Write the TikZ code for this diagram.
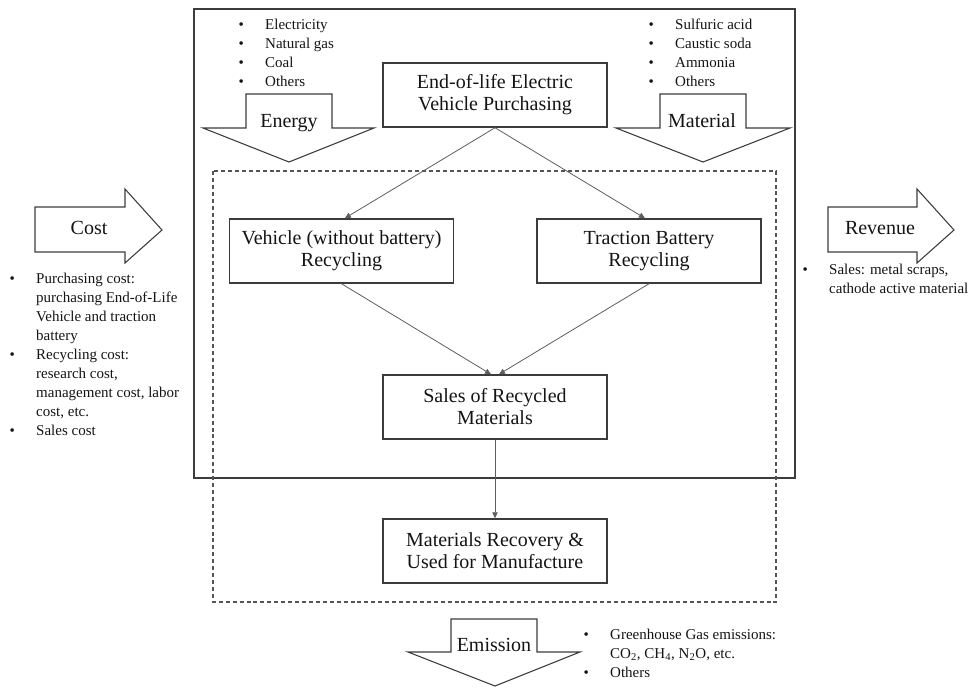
\documentclass[tikz,border=0pt]{standalone}
\usepackage{fontspec}
\setmainfont{Liberation Serif}
\usetikzlibrary{arrows.meta}
\definecolor{cLine}{HTML}{5E5E5E}
\definecolor{cBox}{HTML}{3C3C3C}
\definecolor{cDash}{HTML}{555555}
\definecolor{cTxt}{HTML}{141414}

\begin{document}
\begin{tikzpicture}[
    x=0.75pt, y=-0.75pt, font=\fontsize{15}{16.5}\selectfont, text=cTxt,
    stage/.style={draw=cBox, line width=1.1pt, minimum width=168pt, minimum height=48pt,
                  align=center, inner sep=0pt},
    flow/.style={-{Triangle[length=4.5pt, width=4pt]}, draw=cLine, line width=0.6pt},
    frame/.style={draw=cBox, line width=1.1pt},
    zone/.style={draw=cDash, line width=1.1pt, dash pattern=on 3pt off 2.2pt},
    blk/.style={draw=cBox, line width=0.8pt, fill=white},
    lbl/.style={anchor=base, inner sep=0pt},
    lst/.style={anchor=base west, inner sep=0pt, font=\fontsize{11.25}{14.25}\selectfont},
]

\def\bcol{20pt}   % columna de la viñeta
\useasboundingbox (0,0) rectangle (971,687);

% ===================== Marcos =====================
\draw[frame] (194,9) rectangle (795,478);
\draw[zone] (213,171) rectangle (776,602);

% ===================== Etapas del proceso =====================
\node[stage] (eol)   at (495,95)    {End-of-life Electric\\Vehicle Purchasing};
\node[stage] (veh)   at (341.5,251) {Vehicle (without battery)\\Recycling};
\node[stage] (trac)  at (649,251)   {Traction Battery\\Recycling};
\node[stage] (sales) at (495,407)   {Sales of Recycled\\Materials};
\node[stage] (recov) at (495,551)   {Materials Recovery \&\\Used for Manufacture};

\draw[flow] (eol.south) -- ([xshift=2.5pt]veh.north);
\draw[flow] (eol.south) -- ([xshift=-3pt]trac.north);
\draw[flow] (veh.south) -- ([xshift=-3pt]sales.north);
\draw[flow] (trac.south) -- ([xshift=3pt]sales.north);
\draw[flow] (sales.south) -- (recov.north);

% ===================== Flechas de entrada y salida =====================
\draw[blk] (246,94) -- (332,94) -- (332,128) -- (374,128) -- (289,162)
      -- (203,128) -- (246,128) -- cycle;
\node[lbl] (energy) at (289,127) {Energy};

\draw[blk] (660,94) -- (746,94) -- (746,128) -- (790,128) -- (703,162)
      -- (616,128) -- (660,128) -- cycle;
\node[lbl] (material) at (702,127) {Material};

\draw[blk] (451,619) -- (537,619) -- (537,652) -- (580,652) -- (495,686)
      -- (408,652) -- (451,652) -- cycle;
\node[lbl] (emission) at (494,651) {Emission};

\draw[blk] (35,207) -- (125,207) -- (125,189) -- (162,230) -- (125,263)
      -- (125,252) -- (35,252) -- cycle;
\node[lbl] (cost) at (89,234) {Cost};

\draw[blk] (828,207) -- (917,207) -- (917,189) -- (954,230) -- (917,263)
      -- (917,252) -- (828,252) -- cycle;
\node[lbl] (revenue) at (880,234) {Revenue};

% ===================== Listas =====================
\node[lst] (energyList) at (238.3,29) {\begin{tabular}[t]{@{}p{\bcol}@{}l@{}}
    \textbullet & Electricity\\ \textbullet & Natural gas\\
    \textbullet & Coal\\ \textbullet & Others\end{tabular}};

\node[lst] (materialList) at (648.3,29) {\begin{tabular}[t]{@{}p{\bcol}@{}l@{}}
    \textbullet & Sulfuric acid\\ \textbullet & Caustic soda\\
    \textbullet & Ammonia\\ \textbullet & Others\end{tabular}};

\node[lst] (costList) at (9.3,283) {\begin{tabular}[t]{@{}p{\bcol}@{}l@{}}
    \textbullet & Purchasing cost:\\ & purchasing End-of-Life\\
    & Vehicle and traction\\ & battery\\
    \textbullet & Recycling cost:\\ & research cost,\\
    & management cost, labor\\ & cost, etc.\\
    \textbullet & Sales cost\end{tabular}};

\node[lst] (revenueList) at (802.3,274) {\begin{tabular}[t]{@{}p{\bcol}@{}l@{}}
    \textbullet & Sales: metal scraps,\\ & cathode active material\end{tabular}};

\node[lst] (emissionList) at (583.3,639) {\begin{tabular}[t]{@{}p{\bcol}@{}l@{}}
    \textbullet & Greenhouse Gas emissions:\\
    & CO\textsubscript{2}, CH\textsubscript{4}, N\textsubscript{2}O, etc.\\
    \textbullet & Others\end{tabular}};

\end{tikzpicture}
\end{document}
